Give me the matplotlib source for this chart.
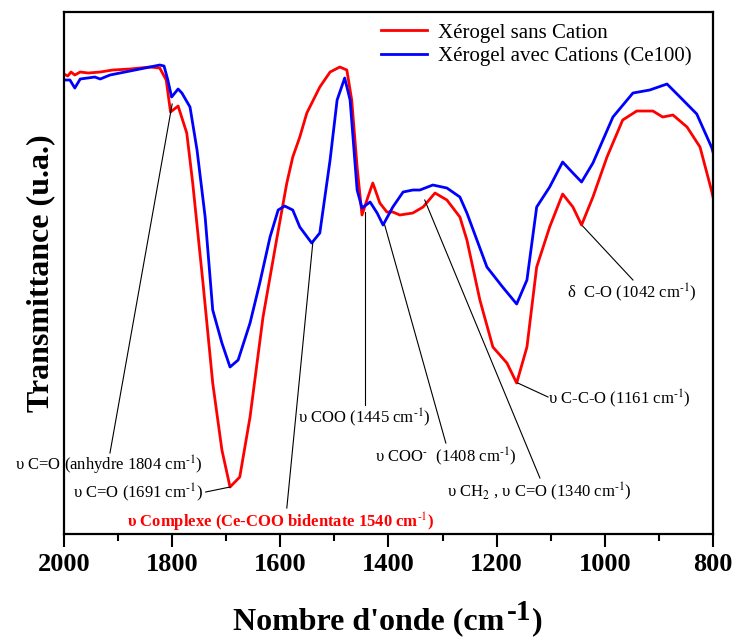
import matplotlib
matplotlib.use("Agg")
import matplotlib.pyplot as plt

plt.rcParams['font.family'] = ['Liberation Serif', 'DejaVu Serif']
plt.rcParams['mathtext.fontset'] = 'stix'

# FTIR spectra (wavenumber in cm-1, transmittance in a.u.)
wn_sans = [2000, 1993, 1987, 1980, 1970, 1955, 1933, 1910, 1878, 1841, 1823, 1811, 1803,
           1789, 1773, 1762, 1743, 1725, 1708, 1693, 1675, 1656, 1632, 1606, 1588,
           1577, 1564, 1551, 1527, 1508, 1490, 1477, 1468, 1458, 1449, 1438, 1429,
           1416, 1403, 1392, 1379, 1355, 1336, 1314, 1292, 1268, 1255, 1231, 1207,
           1181, 1163, 1144, 1126, 1102, 1078, 1059, 1043, 1022, 996, 967, 941, 911,
           893, 874, 848, 824, 802, 800]
t_sans = [461, 459, 463, 460, 463, 462, 463, 465, 466, 468, 467, 455, 423,
          429, 402, 352, 252, 152, 85, 48, 58, 118, 218, 298, 352,
          378, 398, 422, 448, 463, 468, 465, 435, 368, 320, 338, 352,
          332, 323, 323, 320, 322, 328, 342, 335, 318, 295, 235, 188,
          172, 152, 188, 268, 308, 341, 328, 310, 338, 378, 415, 424, 424,
          418, 420, 408, 388, 343, 338]

wn_avec = [2000, 1989, 1980, 1970, 1943, 1933, 1915, 1878, 1841, 1823, 1815, 1808, 1801,
           1789, 1782, 1767, 1754, 1739, 1725, 1708, 1693, 1678, 1656, 1638, 1619,
           1604, 1592, 1577, 1564, 1542, 1527, 1508, 1495, 1481, 1471, 1458, 1449,
           1434, 1421, 1410, 1392, 1373, 1355, 1342, 1318, 1292, 1268, 1255, 1218,
           1189, 1163, 1144, 1126, 1102, 1078, 1059, 1043, 1022, 985, 948, 917, 885,
           861, 830, 802, 800]
t_avec = [455, 455, 447, 456, 458, 456, 460, 464, 468, 470, 469, 455, 438,
          446, 442, 428, 385, 318, 225, 192, 168, 175, 212, 252, 298,
          325, 329, 325, 308, 292, 302, 375, 435, 457, 435, 345, 327,
          333, 322, 310, 328, 343, 345, 345, 350, 347, 338, 322, 268,
          248, 231, 255, 328, 348, 373, 362, 353, 372, 418, 442, 445, 451,
          438, 421, 387, 383]

labels = ['Xérogel sans Cation', 'Xérogel avec Cations (Ce100)']

fig = plt.figure(figsize=(7.33, 6.39), dpi=100)
ax = fig.add_axes([0.0873, 0.1643, 0.8854, 0.8169])

ax.plot(wn_sans, t_sans, color='#ff0000', lw=2.0, label=labels[0])
ax.plot(wn_avec, t_avec, color='#0000ff', lw=2.0, label=labels[1])

ax.set_xlim(2000, 800)
ax.set_ylim(1, 523)
ax.set_xticks([2000, 1800, 1600, 1400, 1200, 1000, 800])
ax.set_xticks(range(1900, 800, -200), minor=True)
ax.set_yticks([])
ax.tick_params(axis='x', which='major', direction='out', length=9, width=1.5,
               labelsize=19, pad=5)
ax.tick_params(axis='x', which='minor', direction='out', length=5, width=1.5)
for lab in ax.get_xticklabels():
    lab.set_fontweight('bold')
for sp in ax.spines.values():
    sp.set_linewidth(1.6)

ax.set_ylabel('Transmittance (u.a.)', fontsize=23, fontweight='bold', labelpad=6)

# x label built from pieces so the superscript keeps a plain hyphen
r = fig.canvas.get_renderer()
t1 = fig.text(233 / 733, 1 - 622 / 639, "Nombre d'onde (cm", fontsize=23,
              fontweight='bold', ha='left', va='center')
bb = t1.get_window_extent(r)
x2 = bb.x1 / fig.bbox.width + 0.003
t2 = fig.text(x2, 1 - 612 / 639, "-1", fontsize=21, fontweight='bold', ha='left', va='center')
bb2 = t2.get_window_extent(r)
fig.text(bb2.x1 / fig.bbox.width + 0.002, 1 - 622 / 639, ")", fontsize=23,
         fontweight='bold', ha='left', va='center')

ax.legend(loc='upper left', bbox_to_anchor=(0.46, 1.015), frameon=False,
          fontsize=15, handlelength=2.2, handletextpad=0.5, labelspacing=0.2)

# band assignments
fs = 12
sup = "$^{\\text{-}1}$"
ann = [
    ("υ C=O (anhydre 1804 cm" + sup + ")", 2090, 70, (1915, 82), (1800, 431), 'black', 'normal'),
    ("υ C=O (1691 cm" + sup + ")", 1983, 42, (1738, 43), (1693, 48), 'black', 'normal'),
    ("υ Complexe (Ce-COO bidentate 1540 cm" + sup + ")", 1884, 13, (1588, 27), (1540, 292), '#ff0000', 'bold'),
    ("υ COO (1445 cm" + sup + ")", 1567, 117, (1444, 130), (1444, 323), 'black', 'normal'),
    ("υ COO$^{\\text{-}}$  (1408 cm" + sup + ")", 1425, 78, (1294, 92), (1407, 310), 'black', 'normal'),
    ("υ CH$_2$ , υ C=O (1340 cm" + sup + ")", 1292, 43, (1120, 57), (1333, 335), 'black', 'normal'),
    ("υ C-C-O (1161 cm" + sup + ")", 1105, 136, (1105, 138), (1161, 152), 'black', 'normal'),
    ("δ  C-O (1042 cm" + sup + ")", 1070, 242, (948, 255), (1041, 309), 'black', 'normal'),
]
for txt, x, y, p0, p1, col, fw in ann:
    ax.text(x, y, txt, fontsize=fs, color=col, fontweight=fw, ha='left', va='center',
            clip_on=False)
    ax.plot([p0[0], p1[0]], [p0[1], p1[1]], color='black', lw=0.8, clip_on=False)

fig.savefig('out.png', dpi=100)
